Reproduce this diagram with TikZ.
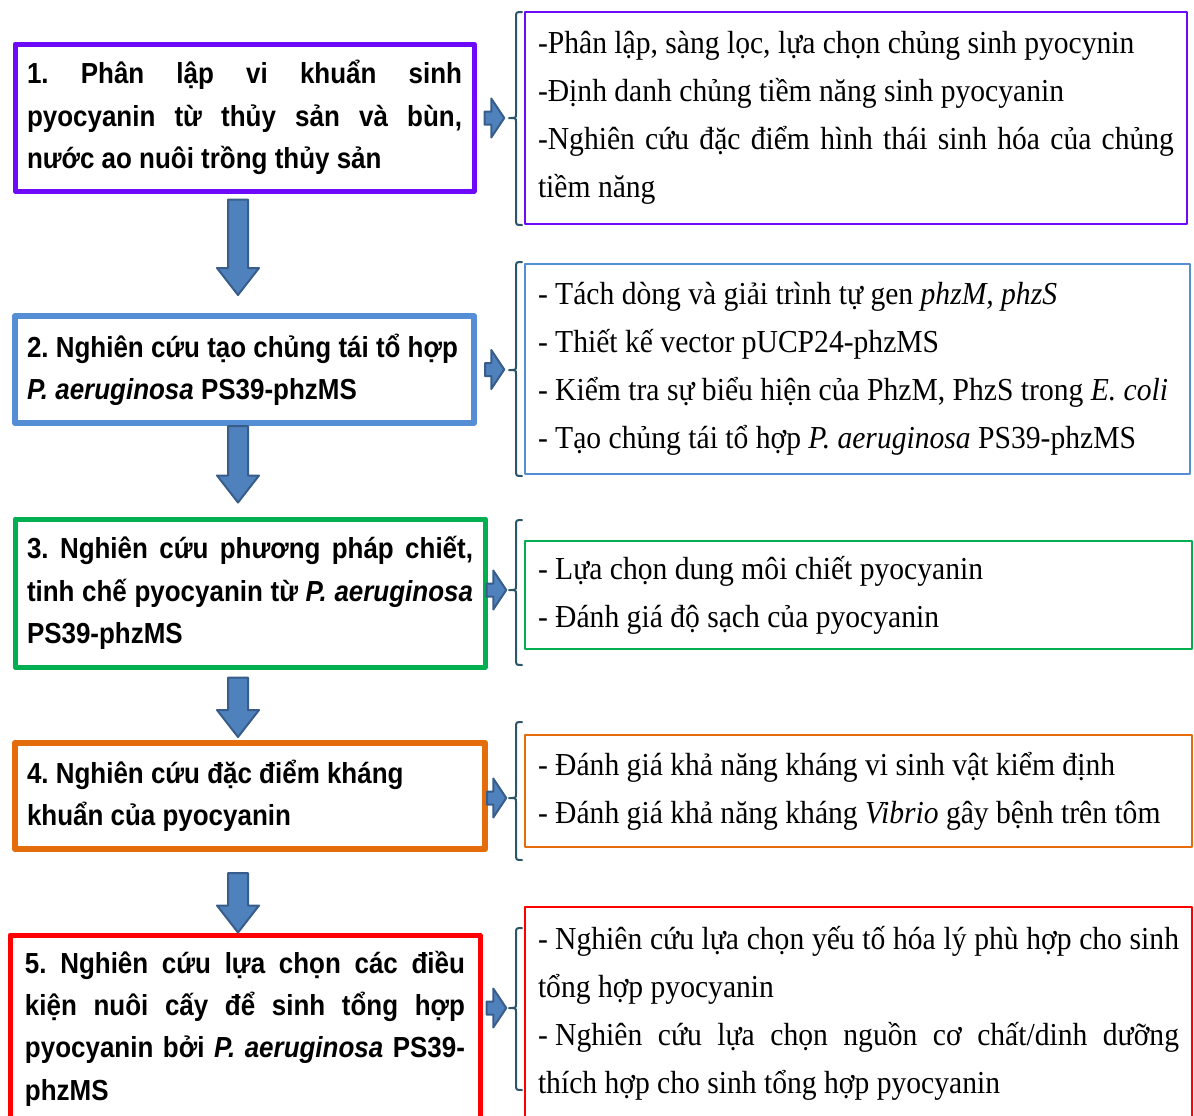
\documentclass[tikz,border=0pt]{standalone}
\usepackage{fontspec}
\setmainfont{Liberation Serif}[FakeStretch=0.925]
\newfontfamily\stepfont{Liberation Sans}[FakeStretch=0.895]
\usetikzlibrary{calc}
\definecolor{stepviolet}{RGB}{110,10,250}
\definecolor{stepblue}{RGB}{85,142,213}
\definecolor{stepgreen}{RGB}{0,176,80}
\definecolor{steporange}{RGB}{228,108,10}
\definecolor{stepred}{RGB}{255,0,0}
\definecolor{arrowfill}{RGB}{79,129,189}
\definecolor{arrowline}{RGB}{56,93,138}
\definecolor{bracketteal}{RGB}{45,85,105}
\newlength\spreadwidth
\newcommand\spreadline[1]{\makebox[\spreadwidth][s]{#1}}
\frenchspacing

\begin{document}
\begin{tikzpicture}[x=0.5pt,y=-0.5pt,line join=round,
  textwide/.style={text width=#1,execute at begin node={\setlength{\spreadwidth}{#1}}},
  stepbox/.style={draw,line width=2.5pt,text=black,inner xsep=6pt,inner ysep=0pt,align=flush left,
    font={\stepfont\bfseries\fontsize{14.5}{21.2}\selectfont}},
  taskbox/.style={draw,line width=0.75pt,text=black,inner xsep=6.5pt,inner ysep=0pt,align=flush left,
    font={\fontsize{16}{24}\selectfont}},
  blockarrow/.style={fill=arrowfill,draw=arrowline,line width=1pt},
  downarrow/.style={blockarrow,to path={let \p1=(\tikztostart), \p2=(\tikztotarget) in
    (\x1-5pt,\y1) -- (\x1+5pt,\y1) -- (\x1+5pt,\y2+13.5pt) -- (\x1+10.5pt,\y2+13.5pt) -- (\x1,\y2)
    -- (\x1-10.5pt,\y2+13.5pt) -- (\x1-5pt,\y2+13.5pt) -- cycle}},
  rightarrow/.style={blockarrow,to path={let \p1=(\tikztostart), \p2=(\tikztotarget) in
    (\x1,\y1+3.25pt) -- (\x2-6.5pt,\y1+3.25pt) -- (\x2-6.5pt,\y1+9.75pt) -- (\x2,\y1)
    -- (\x2-6.5pt,\y1-9.75pt) -- (\x2-6.5pt,\y1-3.25pt) -- (\x1,\y1-3.25pt) -- cycle}},
  bracketline/.style={draw=bracketteal,line width=1pt,line cap=round}]
\useasboundingbox (0,0) rectangle (1194,1115);
% steps
\node[stepbox,draw=stepviolet,minimum width=229.5pt,minimum height=73.5pt,textwide=217.5pt] (step1) at (244.5,117.5)
  {\spreadline{1. Phân lập vi khuẩn sinh}\\\spreadline{pyocyanin từ thủy sản và bùn,}\\nước ao nuôi trồng thủy sản};
\node[stepbox,draw=stepblue,line width=3pt,minimum width=229.5pt,minimum height=53.5pt,textwide=217.5pt] (step2) at (244.5,369.5)
  {2. Nghiên cứu tạo chủng tái tổ hợp\\\textit{P. aeruginosa} PS39-phzMS};
\node[stepbox,draw=stepgreen,minimum width=235pt,minimum height=74pt,textwide=223pt] (step3) at (250,593)
  {\spreadline{3. Nghiên cứu phương pháp chiết,}\\\spreadline{tinh chế pyocyanin từ \textit{P. aeruginosa}}\\PS39-phzMS};
\node[stepbox,draw=steporange,line width=3pt,minimum width=235pt,minimum height=53pt,textwide=223pt] (step4) at (250,796)
  {4. Nghiên cứu đặc điểm kháng\\khuẩn của pyocyanin};
\node[stepbox,draw=stepred,minimum width=235pt,minimum height=93.5pt,inner xsep=7.5pt,textwide=220pt] (step5) at (245,1028.5)
  {\spreadline{5. Nghiên cứu lựa chọn các điều}\\\spreadline{kiện nuôi cấy để sinh tổng hợp}\\\spreadline{pyocyanin bởi \textit{P. aeruginosa} PS39-}\\phzMS};
% tasks
\node[taskbox,draw=stepviolet,minimum width=331pt,minimum height=106pt,textwide=318pt] (task1) at (856,118)
  {-Phân lập, sàng lọc, lựa chọn chủng sinh pyocynin\\-Định danh chủng tiềm năng sinh pyocyanin\\\spreadline{-Nghiên cứu đặc điểm hình thái sinh hóa của chủng}\\tiềm năng};
\node[taskbox,draw=stepblue,minimum width=332.5pt,minimum height=105pt,textwide=319.5pt] (task2) at (857.5,369)
  {- Tách dòng và giải trình tự gen \textit{phzM, phzS}\\- Thiết kế vector pUCP24-phzMS\\- Kiểm tra sự biểu hiện của PhzM, PhzS trong \textit{E. coli}\\- Tạo chủng tái tổ hợp \textit{P. aeruginosa} PS39-phzMS};
\node[taskbox,draw=stepgreen,minimum width=333.5pt,minimum height=54pt,textwide=320.5pt] (task3) at (858.5,595)
  {- Lựa chọn dung môi chiết pyocyanin\\- Đánh giá độ sạch của pyocyanin};
\node[taskbox,draw=steporange,minimum width=333.5pt,minimum height=56pt,textwide=320.5pt] (task4) at (858.5,791)
  {- Đánh giá khả năng kháng vi sinh vật kiểm định\\- Đánh giá khả năng kháng \textit{Vibrio} gây bệnh trên tôm};
\node[taskbox,draw=stepred,minimum width=333.5pt,minimum height=106pt,textwide=320.5pt] (task5) at (858.5,1013)
  {\spreadline{\mbox{- Nghiên} cứu lựa chọn yếu tố hóa lý phù hợp cho sinh}\\tổng hợp pyocyanin\\\spreadline{\mbox{- Nghiên} cứu lựa chọn nguồn cơ chất/dinh dưỡng}\\thích hợp cho sinh tổng hợp pyocyanin};
% down arrows
\draw[downarrow] ([xshift=-3.25pt,yshift=-3pt]step1.south) to ([yshift=9pt]step2.north);
\draw[downarrow] ([xshift=-3.25pt]step2.south) to ([yshift=7pt]step3.north);
\draw[downarrow] ([xshift=-6pt,yshift=-4pt]step3.south) to ([yshift=1.5pt]step4.north);
\draw[downarrow] ([xshift=-6pt,yshift=-10.5pt]step4.south) to (step5.north);
% right arrows
\draw[rightarrow] ([xshift=4pt,yshift=-0.25pt]step1.east) to ([xshift=-10pt]task1.west);
\draw[rightarrow] ([xshift=4pt]step2.east) to ([xshift=-10pt]task2.west);
\draw[rightarrow] ([xshift=-0.5pt,yshift=1.5pt]step3.east) to ([xshift=-9pt]task3.west);
\draw[rightarrow] ([xshift=-0.5pt,yshift=-1pt]step4.east) to ([xshift=-9pt]task4.west);
\draw[rightarrow] ([xshift=2pt,yshift=10.25pt]step5.east) to ([xshift=-9pt]task5.west);
% brackets
\draw[bracketline] (522,12) .. controls (516,12) .. (516,18) -- (516,114) .. controls (516,118) .. (509,118)
  .. controls (516,118) .. (516,122) -- (516,219) .. controls (516,225) .. (522,225);
\draw[bracketline] (522,262) .. controls (516,262) .. (516,268) -- (516,366) .. controls (516,370) .. (509,370)
  .. controls (516,370) .. (516,374) -- (516,470) .. controls (516,476) .. (522,476);
\draw[bracketline] (522,520) .. controls (516,520) .. (516,526) -- (516,586) .. controls (516,590) .. (509,590)
  .. controls (516,590) .. (516,594) -- (516,659) .. controls (516,665) .. (522,665);
\draw[bracketline] (522,722) .. controls (516,722) .. (516,728) -- (516,794) .. controls (516,798) .. (509,798)
  .. controls (516,798) .. (516,802) -- (516,854) .. controls (516,860) .. (522,860);
\draw[bracketline] (522,928) .. controls (516,928) .. (516,934) -- (516,1004) .. controls (516,1008) .. (509,1008)
  .. controls (516,1008) .. (516,1012) -- (516,1084) .. controls (516,1090) .. (522,1090);
\end{tikzpicture}
\end{document}
